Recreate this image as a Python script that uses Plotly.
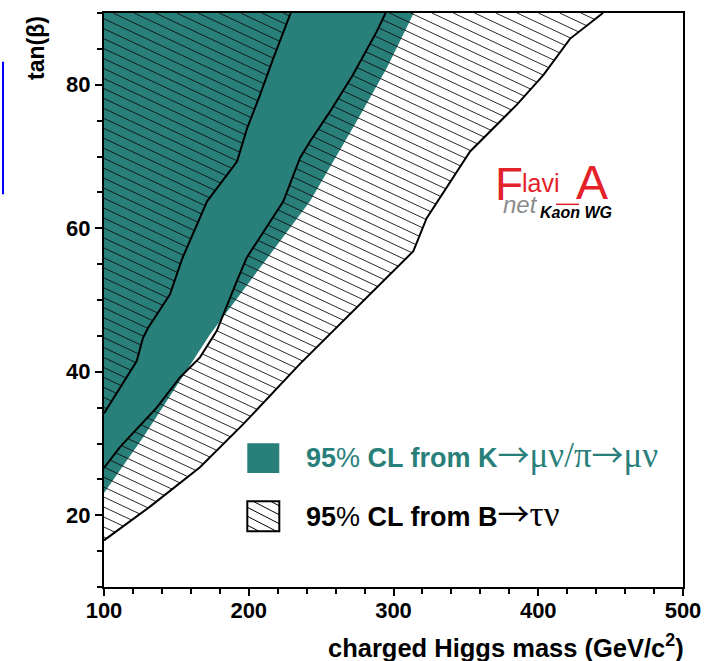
import numpy as np
import plotly.graph_objects as go

# ---------------- data ----------------
# B -> tau nu : left exclusion boundary (line 1)
line1_x = [100, 122.6, 126.9, 130.4, 145.6, 153.9, 171.2, 187.0, 191.9, 198.8, 207.8, 216.8, 229.0]
line1_y = [34.2, 41.5, 44.7, 46.1, 50.8, 55.7, 63.75, 67.9, 69.3, 73.9, 78.6, 83.6, 90.0]
# B -> tau nu : inner boundary of the second exclusion band (line 2)
line2_x = [100, 111.0, 136.4, 152.5, 166.3, 177.9, 191.7, 198.6, 223.9, 235.4, 242.3, 256.1, 272.0, 288.4, 294.5]
line2_y = [26.6, 29.5, 35.0, 39.2, 42.0, 45.7, 52.6, 55.9, 63.75, 69.8, 72.1, 76.25, 81.4, 87.4, 90.0]
# B -> tau nu : outer boundary (line 3)
line3_x = [100, 131.8, 166.3, 196.2, 235.4, 299.9, 313.7, 322.9, 352.9, 385.1, 403.5, 421.9, 444.7]
line3_y = [16.5, 21.2, 26.7, 32.7, 41.1, 54.0, 56.8, 61.4, 70.7, 77.2, 81.35, 86.4, 90.0]
# K -> mu nu / pi -> mu nu : boundary of the excluded (teal) region
teal_x = [100, 127.2, 173.2, 242.3, 274.6, 295.3, 314.0]
teal_y = [23.1, 30.9, 45.2, 63.75, 74.9, 82.3, 90.0]

X_RANGE = [100, 500]
Y_RANGE = [10, 90]
x_tick_step, x_minor_step = 100, 20
y_tick_step, y_minor_step = 20, 5

ARROW = "<span style='font-family:Noto Sans CJK SC;font-weight:normal;font-size:32px'>→</span>"


def greek(s):
    return "<span style='font-family:Liberation Serif;font-weight:normal;font-size:35px'>" + s + "</span>"


legend_labels = [
    "<b>95</b>%<b> CL from K</b>" + ARROW + greek("μν/π") + ARROW + greek("μν"),
    "<b>95</b>%<b> CL from B</b>" + ARROW + greek("τν"),
]

TEAL = "#297f7a"
RED = "#e3222a"
FONT = "Liberation Sans, Arial, sans-serif"

# ---------------- geometry helpers ----------------
W, H = 712, 661
ML, MR, MT, MB = 104, 29, 11, 74
PW, PH = W - ML - MR, H - MT - MB
px_per_x = PW / (X_RANGE[1] - X_RANGE[0])
px_per_y = PH / (Y_RANGE[1] - Y_RANGE[0])

# hatch: lines falling to the right, ~0.47 px down per px right, ~10 px apart vertically
hatch_pix_slope = 0.47
hatch_pix_gap = 10.0
k = hatch_pix_slope * px_per_x / px_per_y   # data-units slope
dc = hatch_pix_gap / px_per_y


def hatch_segments(px, py, k, dc, phase=0.0, x0=100.0):
    px = np.asarray(px, float)
    py = np.asarray(py, float)
    cv = py + k * (px - x0)
    start = np.floor((cv.min() - phase) / dc) * dc + phase
    xs, ys = [], []
    n = len(px)
    for c in np.arange(start, cv.max() + dc, dc):
        f = py - (c - k * (px - x0))
        hits = []
        for i in range(n):
            j = (i + 1) % n
            if (f[i] > 0) != (f[j] > 0):
                t = f[i] / (f[i] - f[j])
                hits.append(px[i] + t * (px[j] - px[i]))
        hits.sort()
        for a, b in zip(hits[0::2], hits[1::2]):
            xs += [a, b, None]
            ys += [c - k * (a - x0), c - k * (b - x0), None]
    return xs, ys


fig = go.Figure()

# teal region (K -> mu nu exclusion)
fig.add_trace(go.Scatter(
    x=teal_x + [X_RANGE[0]], y=teal_y + [Y_RANGE[1]],
    fill="toself", fillcolor=TEAL, mode="lines", line=dict(width=0),
    hoverinfo="skip", showlegend=False))

# hatched regions (B -> tau nu exclusion)
polyA_x = line1_x + [X_RANGE[0]]
polyA_y = line1_y + [Y_RANGE[1]]
polyB_x = line2_x + line3_x[::-1]
polyB_y = line2_y + line3_y[::-1]
hx, hy = [], []
for PX, PY in [(polyA_x, polyA_y), (polyB_x, polyB_y)]:
    a, b = hatch_segments(PX, PY, k, dc, phase=0.3)
    hx += a
    hy += b
fig.add_trace(go.Scatter(x=hx, y=hy, mode="lines",
                         line=dict(color="#111111", width=0.9),
                         hoverinfo="skip", showlegend=False))

# boundary lines
for lx, ly in [(line1_x, line1_y), (line2_x, line2_y), (line3_x, line3_y)]:
    fig.add_trace(go.Scatter(x=lx, y=ly, mode="lines",
                             line=dict(color="black", width=2),
                             hoverinfo="skip", showlegend=False))


def to_paper(px, py):
    return (px - ML) / PW, (MT + PH - py) / PH


shapes = []
# legend: teal box
x0, y0 = to_paper(247.3, 442.7)
x1, y1 = to_paper(279.3, 472.7)
shapes.append(dict(type="rect", xref="paper", yref="paper", x0=x0, y0=y1, x1=x1, y1=y0,
                   fillcolor=TEAL, line=dict(width=0)))
# legend: hatched box
bx0, by0, bx1, by1 = 247.3, 501.0, 279.3, 531.0
rx, ry = [bx0, bx1, bx1, bx0], [by0, by0, by1, by1]
lsx, lsy = hatch_segments(rx, ry, -hatch_pix_slope * 1.1, 9.0, phase=3.0, x0=bx0)
for i in range(0, len(lsx), 3):
    ax, ay = to_paper(lsx[i], lsy[i])
    bx, byy = to_paper(lsx[i + 1], lsy[i + 1])
    shapes.append(dict(type="line", xref="paper", yref="paper", x0=ax, y0=ay, x1=bx, y1=byy,
                       line=dict(color="black", width=1)))
x0, y0 = to_paper(bx0, by0)
x1, y1 = to_paper(bx1, by1)
shapes.append(dict(type="rect", xref="paper", yref="paper", x0=x0, y0=y1, x1=x1, y1=y0,
                   line=dict(color="black", width=2)))
# blue stray line at the far left
a0 = to_paper(3, 60)
a1 = to_paper(3, 193)
shapes.append(dict(type="line", xref="paper", yref="paper", x0=a0[0], y0=a0[1], x1=a1[0], y1=a1[1],
                   line=dict(color="#0000ff", width=2)))
# logo underline
u0 = to_paper(556, 203)
u1 = to_paper(579, 203)
shapes.append(dict(type="line", xref="paper", yref="paper", x0=u0[0], y0=u0[1], x1=u1[0], y1=u1[1],
                   line=dict(color=RED, width=1.5)))

annotations = []


def ann(text, px, py, size, color="black", xanchor="left", yanchor="middle", angle=0,
        family=FONT, weight="normal", style="normal"):
    x, y = to_paper(px, py)
    annotations.append(dict(text=text, x=x, y=y, xref="paper", yref="paper", showarrow=False,
                            xanchor=xanchor, yanchor=yanchor, textangle=angle, borderpad=0,
                            font=dict(size=size, color=color, family=family, weight=weight,
                                      style=style)))


ann(legend_labels[0], 305, 453, 27, color=TEAL)
ann(legend_labels[1], 305, 512, 27, color="black")
ann("tan(β)", 36, 46, 23, angle=-90, xanchor="center", weight="bold")
ann("charged Higgs mass (GeV/c<sup>2</sup>)", 685, 646, 25.5, xanchor="right", weight="bold")
# logo
ann("F", 494, 183, 46, color=RED)
ann("lavi", 521, 182, 25, color=RED)
ann("A", 575, 181, 48, color=RED)
ann("net", 502, 203, 24, color="#8c8c8c", style="italic")
ann("Kaon WG", 539, 211, 16, color="black", weight="bold", style="italic")

axis_common = dict(showline=True, linecolor="black", linewidth=2, mirror=True,
                   ticks="outside", ticklen=7, tickwidth=2, tickcolor="black",
                   showgrid=False, zeroline=False,
                   tickfont=dict(size=22, family=FONT, color="black", weight="bold"))

fig.update_layout(
    width=W, height=H,
    margin=dict(l=ML, r=MR, t=MT, b=MB),
    paper_bgcolor="white", plot_bgcolor="white",
    showlegend=False,
    xaxis=dict(range=X_RANGE, tick0=X_RANGE[0], dtick=x_tick_step, ticklabelstandoff=-4,
               minor=dict(dtick=x_minor_step, ticks="outside", ticklen=5, tickwidth=1.5,
                          tickcolor="black"),
               **axis_common),
    yaxis=dict(range=Y_RANGE, tick0=0, dtick=y_tick_step,
               minor=dict(dtick=y_minor_step, ticks="outside", ticklen=5, tickwidth=1.5,
                          tickcolor="black"),
               **axis_common),
    shapes=shapes,
    annotations=annotations,
)

fig.write_html("out.html")
